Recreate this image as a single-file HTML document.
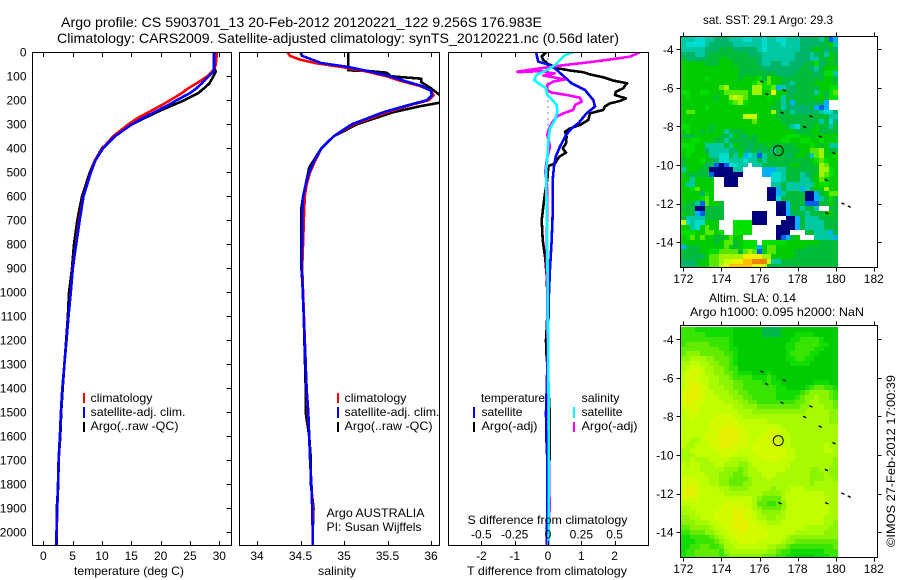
<!DOCTYPE html>
<html lang="en">
<head>
<meta charset="utf-8">
<title>Argo profile CS 5903701_13</title>
<style>
html,body{margin:0;padding:0;background:#fff;}
svg{display:block;}
text{font-family:"Liberation Sans",sans-serif;font-size:12px;fill:#000;}
</style>
</head>
<body>
<svg id="chart" xmlns="http://www.w3.org/2000/svg" width="900" height="580" viewBox="0 0 900 580">
  <defs>
    <clipPath id="clip-temp"><rect x="32" y="52" width="200" height="494"/></clipPath>
    <clipPath id="clip-sal"><rect x="239" y="52" width="201" height="494"/></clipPath>
    <clipPath id="clip-diff"><rect x="448" y="52" width="201" height="494"/></clipPath>
    <clipPath id="clip-sst"><rect x="680" y="36" width="198" height="231"/></clipPath>
    <clipPath id="clip-sla"><rect x="680" y="325" width="198" height="233"/></clipPath>
  </defs>
  <rect x="0" y="0" width="900" height="580" fill="#fff"/>

  <text x="61" y="27" style="font-size:14px" textLength="481" lengthAdjust="spacingAndGlyphs">Argo profile: CS 5903701_13 20-Feb-2012 20120221_122 9.256S 176.983E</text>
  <text x="57" y="43" style="font-size:14px" textLength="562" lengthAdjust="spacingAndGlyphs">Climatology: CARS2009. Satellite-adjusted climatology: synTS_20120221.nc (0.56d later)</text>

  <g id="heat-sst" clip-path="url(#clip-sst)" shape-rendering="crispEdges"></g>
  <g id="heat-sla" clip-path="url(#clip-sla)" shape-rendering="crispEdges"></g>

  <g id="temp-lines" clip-path="url(#clip-temp)"></g>
  <g id="sal-lines" clip-path="url(#clip-sal)"></g>
  <g id="diff-lines" clip-path="url(#clip-diff)"></g>
  <g id="axes" shape-rendering="crispEdges"></g>
  <g id="labels"></g>
  <g id="map-marks"></g>

  <text x="74" y="575" textLength="110" lengthAdjust="spacingAndGlyphs">temperature (deg C)</text>
  <text x="318" y="575" textLength="38" lengthAdjust="spacingAndGlyphs">salinity</text>
  <text x="467" y="575" textLength="160" lengthAdjust="spacingAndGlyphs">T difference from climatology</text>
  <text x="467.5" y="524" textLength="160" lengthAdjust="spacingAndGlyphs">S difference from climatology</text>

  <g>
    <rect x="83" y="393" width="2" height="10" fill="#f00" shape-rendering="crispEdges"/>
    <text x="90.5" y="402" textLength="62" lengthAdjust="spacingAndGlyphs">climatology</text>
    <rect x="83" y="407" width="2" height="11" fill="#00f" shape-rendering="crispEdges"/>
    <text x="90.5" y="416" textLength="95" lengthAdjust="spacingAndGlyphs">satellite-adj. clim.</text>
    <rect x="83" y="422" width="2" height="10" fill="#000" shape-rendering="crispEdges"/>
    <text x="90.5" y="430" textLength="88" lengthAdjust="spacingAndGlyphs">Argo(..raw -QC)</text>
  </g>
  <g>
    <rect x="337" y="393" width="2" height="10" fill="#f00" shape-rendering="crispEdges"/>
    <text x="344.5" y="402" textLength="62" lengthAdjust="spacingAndGlyphs">climatology</text>
    <rect x="337" y="407" width="2" height="11" fill="#00f" shape-rendering="crispEdges"/>
    <text x="344.5" y="416" textLength="95" lengthAdjust="spacingAndGlyphs">satellite-adj. clim.</text>
    <rect x="337" y="422" width="2" height="10" fill="#000" shape-rendering="crispEdges"/>
    <text x="344.5" y="430" textLength="88" lengthAdjust="spacingAndGlyphs">Argo(..raw -QC)</text>
  </g>
  <g>
    <text x="481" y="402" textLength="64" lengthAdjust="spacingAndGlyphs">temperature</text>
    <text x="581.5" y="402" textLength="38" lengthAdjust="spacingAndGlyphs">salinity</text>
    <rect x="473" y="407" width="2" height="11" fill="#00f" shape-rendering="crispEdges"/>
    <text x="481.5" y="416" textLength="41" lengthAdjust="spacingAndGlyphs">satellite</text>
    <rect x="473" y="422" width="2" height="10" fill="#000" shape-rendering="crispEdges"/>
    <text x="481.5" y="430" textLength="56" lengthAdjust="spacingAndGlyphs">Argo(-adj)</text>
    <rect x="573" y="407" width="2" height="11" fill="#0ff" shape-rendering="crispEdges"/>
    <text x="581.5" y="416" textLength="41" lengthAdjust="spacingAndGlyphs">satellite</text>
    <rect x="573" y="422" width="2" height="10" fill="#f0f" shape-rendering="crispEdges"/>
    <text x="581.5" y="430" textLength="56" lengthAdjust="spacingAndGlyphs">Argo(-adj)</text>
  </g>

  <text x="326.5" y="517" textLength="98" lengthAdjust="spacingAndGlyphs">Argo AUSTRALIA</text>
  <text x="326.5" y="531" textLength="95" lengthAdjust="spacingAndGlyphs">PI: Susan Wijffels</text>

  <text x="703" y="24" textLength="130" lengthAdjust="spacingAndGlyphs">sat. SST: 29.1 Argo: 29.3</text>
  <text x="709" y="302" textLength="87" lengthAdjust="spacingAndGlyphs">Altim. SLA: 0.14</text>
  <text x="690" y="316" textLength="174" lengthAdjust="spacingAndGlyphs">Argo h1000: 0.095 h2000: NaN</text>
  <text transform="translate(895 547) rotate(-90)" x="0" y="0" textLength="172" lengthAdjust="spacingAndGlyphs">©IMOS 27-Feb-2012 17:00:39</text>
</svg>

<script>
// ---- Depth axis ----
const depthTicks = [0,100,200,300,400,500,600,700,800,900,1000,1100,1200,1300,1400,1500,1600,1700,1800,1900,2000];
// ---- Temperature panel ----
const tempTicks = [0,5,10,15,20,25,30];
const tempDepths = [0,30,60,80,100,130,150,170,200,220,250,275,300,350,400,450,500,600,700,800,900,1000,1100,1200,1300,1400,1500,1600,1700,1800,1900,2000,2055];
const tempClim = [29.55,29.5,29.3,28.8,27.96,26.1,24.7,23.6,21.6,20.2,17.9,16.0,14.5,11.9,10.1,8.8,8.08,6.82,6.14,5.57,5.0,4.67,4.3,3.95,3.6,3.24,3.02,2.85,2.62,2.5,2.39,2.28,2.16];
const tempSat = [29.1,29.1,29.1,29.0,28.2,27.0,26.1,25.0,22.7,21.3,18.9,16.9,15.1,12.2,10.2,8.9,8.12,6.85,6.2,5.6,5.03,4.68,4.3,3.95,3.6,3.24,3.0,2.83,2.6,2.5,2.37,2.25,2.2];
const tempArgo = [29.5,29.4,29.1,29.4,29.0,28.3,27.4,26.4,24.0,22.1,19.3,17.2,15.1,12.1,10.0,8.8,7.95,6.6,5.8,5.23,4.9,4.38,4.2,3.9,3.6,3.3,3.05,2.9,2.6,2.55,2.3,2.28,2.25];
// ---- Salinity panel ----
const salTicks = [34,34.5,35,35.5,36];
const salDepths = [0,15,30,45,60,80,100,120,140,160,180,200,220,250,300,350,400,450,500,550,600,680,900,1400,1500,1600,1700,1800,1900,2000,2055];
const salClim = [34.35,34.38,34.49,34.67,34.95,35.26,35.49,35.66,35.87,36.0,36.03,35.97,35.76,35.49,35.11,34.88,34.74,34.67,34.61,34.57,34.55,34.54,34.52,34.57,34.585,34.6,34.61,34.625,34.64,34.64,34.64];
const salSat = [34.5,34.52,34.63,34.74,35.03,35.3,35.53,35.7,35.89,36.0,36.01,35.95,35.74,35.45,35.09,34.88,34.74,34.66,34.6,34.56,34.53,34.52,34.515,34.57,34.59,34.6,34.61,34.625,34.635,34.64,34.64];
const salArgoDepths = [0,60,75,78,85,100,110,125,150,178,195,210,225,250,300,350,400,480,500,600,650,900,1000,1400,1500,1600,1700,1800,1900,2000,2055];
const salArgo = [35.05,35.05,35.05,35.28,35.49,35.54,35.89,35.89,36.0,36.1,36.2,36.1,35.87,35.56,35.15,34.88,34.74,34.6,34.59,34.53,34.51,34.51,34.53,34.56,34.56,34.6,34.62,34.62,34.65,34.64,34.64];
// ---- Difference panel ----
const diffTTicks = [-2,-1,0,1,2];
const diffSTicks = ["-0.5","-0.25","0","0.25","0.5"];
const diffSTickValues = [-0.5,-0.25,0,0.25,0.5];
const dTSatDepths = [0,39,49,67,101,129,157,199,226,254,296,317,345,393,435,476,532,671,782,900,1000,1200,1400,1500,1600,1700,1800,2000,2055];
const dTSat = [-0.36,-0.29,-0.04,0.21,0.48,0.71,1.11,1.36,1.41,1.16,0.91,0.71,0.54,0.36,0.23,0.18,0.14,0.14,0.11,0.06,0.03,0,-0.04,-0.06,-0.05,-0.02,-0.02,-0.03,-0.03];
const dTArgoDepths = [0,18,32,49,67,76,83,92,104,118,129,139,150,164,178,192,203,213,226,240,254,282,303,317,331,351,379,400,418,435,463,474,532,588,643,699,782,860,950,1100,1200,1250,1300,1500,1550,1800,1900,2055];
const dTArgo = [-0.06,-0.19,-0.14,0.01,0.31,0.66,1.06,1.26,1.66,1.96,2.38,2.31,2.26,2.04,2.01,2.34,2.16,1.86,1.71,1.66,1.26,1.21,0.96,0.66,0.51,0.56,0.54,0.44,0.54,0.34,0.21,0.01,-0.02,-0.09,-0.14,-0.19,-0.16,-0.08,-0.03,-0.02,-0.06,-0.05,-0.02,0.05,0.05,0.04,0.03,0];
const dSSatDepths = [0,11,32,53,74,94,115,129,150,178,196,219,247,282,317,365,435,504,782,1500,2055];
const dSSat = [0.19,0.128,0.09,0.053,-0.01,-0.085,-0.105,-0.073,-0.015,-0.005,0.028,0.065,0.07,0.053,0.015,0.003,-0.005,-0.015,-0.005,0.005,0.005];
const dSArgoDepths = [0,18,32,46,57,71,81,76,83,78,85,88,97,104,113,122,136,157,168,178,189,206,219,240,254,268,296,324,344,393,449,504,532,601,782,1400,1900,2055];
const dSArgo = [0.69,0.615,0.44,0.24,0.065,-0.11,-0.23,-0.1,-0.22,-0.05,0,0.05,-0.035,0.04,0.128,0.04,-0.005,-0.01,0.028,0.14,0.24,0.253,0.203,0.19,0.115,0.065,0.028,0.003,-0.005,0.015,-0.01,-0.022,-0.01,-0.005,-0.01,0,0.012,0];
// ---- Maps ----
const lonTicks = [172,174,176,178,180,182];
const latTicks = [-4,-6,-8,-10,-12,-14];
const markerLons = [176.13,176.38,177.3,177.18,178.7,178.37,179.19,179.91,179.51,180.38,180.71,177.08,179.53];
const markerLats = [-5.68,-6.32,-6.13,-7.29,-7.48,-8.03,-8.53,-9.39,-10.78,-12.0,-12.16,-12.5,-12.5];
const profileLon = 176.983;
const profileLat = -9.256;
// SST colour-class per 0.25-degree cell (0 = no data)
const sstRows = [
[5,5,5,4,4,5,5,6,6,6,5,5,5,4,4,5,5,4,5,5,4,4,5,5,5,6,6,6,6,5,7,2,3],
[5,4,4,4,4,5,6,6,6,6,6,5,5,5,5,5,5,4,5,5,5,4,5,5,5,6,6,6,6,7,7,8,5],
[5,5,5,5,5,6,6,6,7,7,7,6,6,6,6,6,5,4,5,5,5,5,5,5,5,6,6,7,8,7,6,7,6],
[6,6,6,5,5,6,7,7,7,7,7,7,7,7,6,6,6,5,5,5,5,5,5,5,6,6,6,5,6,7,5,8,7],
[7,6,6,6,6,7,7,7,8,8,7,7,7,7,7,7,6,5,5,5,5,5,5,5,6,6,6,5,5,7,7,8,7],
[8,8,8,8,8,7,7,7,8,8,8,7,7,7,7,7,6,5,5,6,6,5,5,6,6,6,7,7,9,6,7,8,7],
[8,8,8,8,8,8,8,8,8,8,8,8,7,7,7,7,7,6,6,6,6,6,6,6,6,7,7,6,5,7,8,8,8],
[8,8,8,8,8,8,8,8,8,8,8,8,7,7,7,7,7,7,7,7,6,6,6,6,7,7,7,7,6,7,9,9,5],
[8,8,8,8,8,9,8,8,8,8,8,8,7,8,8,8,9,7,10,8,8,7,7,7,7,7,7,7,7,7,8,8,7],
[8,8,8,8,8,8,8,8,8,8,8,8,8,8,8,9,10,9,10,8,8,7,6,5,7,7,7,7,8,8,8,8,7],
[8,8,8,8,8,8,8,8,10,11,8,8,8,8,8,11,11,9,9,10,3,5,6,6,7,7,7,7,7,8,8,9,9],
[9,9,8,8,9,9,8,8,8,10,10,10,10,10,8,11,11,8,8,13,8,8,7,6,7,7,7,7,5,8,7,9,10],
[8,9,8,8,8,8,8,7,8,8,11,12,11,10,8,8,8,8,9,8,8,5,7,7,7,7,7,7,8,8,7,9,9],
[8,8,8,8,8,8,8,8,8,8,9,10,11,9,8,8,8,8,8,8,7,5,7,3,7,7,7,7,7,7,3,0,0],
[8,8,8,8,8,9,8,8,8,8,8,8,8,8,8,8,8,8,8,7,7,5,6,6,6,6,6,7,3,2,3,0,0],
[8,10,10,8,8,8,8,8,8,8,8,8,8,8,8,8,8,8,8,11,7,7,7,5,6,6,6,6,6,5,4,4,6],
[8,8,8,8,8,8,8,8,8,8,8,8,8,12,12,12,8,8,8,8,7,7,7,7,7,7,7,7,7,7,7,5,5],
[8,8,8,8,8,8,8,8,8,8,8,8,8,8,8,10,8,8,8,8,8,7,7,7,7,7,7,7,7,5,7,4,6],
[9,9,8,8,8,8,7,8,8,8,8,8,8,8,8,8,8,8,8,8,8,8,7,5,4,7,7,7,8,7,7,5,7],
[8,9,8,8,7,8,7,8,8,5,7,7,7,8,8,8,8,8,8,8,8,8,8,8,7,7,7,8,8,7,7,7,7],
[7,7,7,8,8,8,8,8,7,7,5,8,7,6,8,7,8,8,8,8,8,8,9,9,9,8,8,7,8,8,8,8,8],
[8,8,9,9,8,8,8,7,7,5,7,7,7,7,7,7,8,8,8,8,8,9,9,8,8,9,9,8,8,9,8,8,8],
[9,9,9,8,8,5,5,5,5,7,5,8,7,7,6,7,7,7,8,7,7,7,7,7,8,8,8,9,8,7,8,5,5],
[8,9,9,8,8,6,5,5,5,5,6,6,8,6,6,7,6,7,7,5,7,7,7,7,7,8,8,10,10,11,8,7,7],
[8,9,8,8,8,8,5,5,4,4,7,5,8,3,4,5,2,5,7,7,7,7,6,7,8,8,7,5,10,11,8,8,9],
[7,8,8,8,9,8,7,6,4,4,5,5,5,4,5,5,7,5,7,7,7,7,7,7,7,7,7,8,9,10,9,8,8],
[7,8,8,8,8,6,6,2,1,2,4,4,5,5,0,5,5,7,7,7,7,7,7,8,8,7,7,7,8,11,10,8,8],
[5,8,8,8,7,7,1,1,1,1,1,5,5,0,0,0,0,3,3,3,5,5,7,7,7,7,7,7,7,11,11,9,8],
[8,7,7,7,7,7,2,1,1,1,1,1,1,0,0,0,0,3,3,4,4,5,7,7,7,5,6,7,8,11,10,9,8],
[8,8,5,8,8,8,8,0,0,1,1,1,0,0,0,0,0,0,0,4,4,5,7,7,7,5,5,7,8,10,9,8,8],
[8,5,5,8,8,8,8,0,0,1,1,1,0,0,0,0,0,0,0,5,5,7,5,5,5,5,5,5,8,9,9,8,8],
[8,8,9,10,8,8,8,0,0,0,0,0,0,0,0,0,0,0,1,1,3,7,5,5,5,3,5,7,8,8,11,8,8],
[8,8,8,8,6,9,8,0,0,0,0,0,0,0,0,0,0,0,1,1,3,5,7,7,7,7,1,1,3,7,8,10,10],
[8,8,8,8,9,10,8,0,0,0,0,0,0,0,0,0,0,0,1,1,4,7,7,7,7,7,1,1,3,5,7,9,7],
[8,7,7,5,2,10,8,8,7,0,0,0,0,0,0,0,0,0,0,0,1,1,3,7,7,7,2,2,2,7,7,8,7],
[7,7,7,1,1,7,7,7,7,0,0,0,0,0,0,0,0,0,0,0,1,1,3,7,7,5,7,7,5,0,0,7,7],
[8,7,7,3,2,7,7,7,7,0,0,0,0,0,0,1,1,1,0,0,1,1,3,6,7,7,5,7,7,7,8,8,7],
[7,5,5,5,5,7,7,7,7,0,0,0,0,0,0,1,1,1,0,0,0,0,1,1,3,7,5,5,5,7,7,7,7],
[12,4,5,4,4,8,8,8,0,0,0,9,9,9,9,1,1,1,0,0,0,1,1,1,3,7,5,5,5,5,7,7,7],
[8,8,5,4,8,10,8,8,0,0,0,9,9,9,9,0,0,0,0,0,1,1,1,1,3,7,5,5,5,5,7,7,7],
[9,9,9,8,8,10,10,8,9,0,0,9,9,9,9,0,0,0,0,0,1,1,1,0,0,0,7,7,5,5,5,3,7],
[8,9,10,8,10,8,8,7,7,8,10,8,8,0,0,0,0,0,0,0,1,2,3,7,8,0,0,0,5,5,5,5,3],
[8,8,8,8,8,8,8,7,8,10,10,7,8,9,9,9,0,9,9,9,9,9,8,8,8,8,8,8,8,7,7,7,7],
[3,7,7,7,8,8,8,8,8,10,8,7,8,9,9,9,3,8,10,10,8,8,8,8,8,8,7,7,7,7,7,7,7],
[7,7,7,7,8,8,9,9,10,10,10,10,7,10,11,10,2,8,10,10,8,8,8,8,7,7,7,7,7,7,7,7,7],
[7,7,7,7,6,8,10,10,11,11,11,11,11,13,13,13,13,11,11,8,8,8,8,8,7,7,7,7,7,7,7,7,7],
[6,6,6,7,8,8,10,10,11,12,12,13,13,14,14,15,15,15,12,5,5,7,7,7,7,7,7,7,7,7,7,7,7],
[6,6,6,7,8,8,10,10,12,13,14,14,14,14,14,13,13,12,7,7,7,7,7,7,7,7,7,7,7,7,7,7,7]
];
// Sea-level-anomaly colour-class per 0.25-degree cell
const slaRows = [
[3,3,3,2,2,2,2,2,2,2,2,1,1,1,1,1,1,0,0,0,0,1,1,1,1,1,1,1,1,1,1,1,1],
[3,3,3,3,3,2,2,2,2,2,2,1,1,1,1,1,1,0,0,0,0,1,1,1,2,2,2,2,1,1,1,1,1],
[3,3,3,3,3,3,3,3,3,3,2,1,1,1,1,1,1,1,1,1,1,1,1,2,2,3,3,3,3,2,1,1,1],
[3,4,4,4,4,4,3,3,3,3,2,1,1,1,1,1,1,1,1,1,1,1,2,2,3,3,3,3,3,2,2,1,1],
[4,4,4,4,4,4,4,4,3,3,2,2,1,1,1,1,1,1,1,1,1,1,2,2,3,3,3,3,2,2,1,1,1],
[4,5,5,5,4,4,4,4,4,3,3,2,1,1,1,1,1,1,1,1,1,1,2,3,3,3,3,2,2,1,1,1,1],
[5,5,6,6,6,5,5,4,4,4,3,2,1,1,1,1,1,1,1,1,1,1,2,2,3,3,2,2,1,1,1,1,1],
[6,6,7,7,6,6,5,5,4,4,3,2,1,1,1,1,1,1,1,1,1,1,1,2,2,2,2,1,1,1,1,1,1],
[6,7,8,8,7,6,6,5,5,4,3,3,1,1,1,1,1,1,1,1,1,1,1,1,1,1,1,1,1,1,1,1,1],
[7,8,8,8,7,6,6,5,5,4,4,3,2,2,2,1,1,1,2,1,1,1,1,1,1,1,1,1,1,1,1,1,1],
[7,8,8,8,7,7,6,6,5,5,4,3,3,3,3,2,2,2,3,2,1,1,1,1,1,1,1,1,1,1,1,1,1],
[7,8,9,8,7,7,6,6,5,5,5,4,4,3,3,3,3,2,3,2,2,1,1,1,1,1,1,1,2,2,2,1,1],
[7,8,9,9,8,7,6,6,6,5,5,4,4,3,3,3,3,3,3,3,2,2,1,1,1,1,2,3,4,4,3,3,2],
[8,9,9,9,8,7,7,6,6,6,5,5,4,4,3,3,3,3,3,3,2,2,2,2,2,3,4,5,5,5,5,4,3],
[8,9,9,9,8,7,7,7,6,6,6,5,5,4,4,3,3,3,3,3,2,2,2,2,3,4,5,5,6,5,5,4,3],
[8,9,9,8,8,7,7,7,7,6,6,6,5,5,4,4,3,3,3,3,3,3,3,3,4,4,5,6,6,5,5,5,4],
[8,8,8,8,7,7,7,7,7,7,7,6,6,5,5,5,4,4,4,4,4,4,4,4,4,5,5,6,6,6,5,5,4],
[7,8,8,8,7,7,7,7,7,7,7,7,6,6,6,5,5,5,5,5,5,5,5,5,5,5,6,6,6,6,6,5,5],
[7,7,8,7,7,7,7,8,8,8,8,7,7,6,6,6,6,6,6,6,6,6,6,6,6,6,6,6,6,6,6,5,5],
[7,7,7,7,7,7,8,8,8,8,8,8,7,7,7,7,7,7,6,6,6,6,6,6,6,6,6,6,6,6,6,5,5],
[7,7,7,7,7,7,8,8,8,9,9,8,8,7,7,7,7,7,7,7,7,6,6,6,6,6,6,6,6,6,6,6,6],
[7,7,7,7,7,7,8,8,9,9,9,9,8,8,7,7,7,7,8,8,7,7,6,6,6,6,6,6,6,6,6,6,6],
[7,7,7,7,7,8,8,8,9,9,9,9,8,8,7,7,7,8,8,8,8,7,7,6,6,6,6,6,6,6,6,6,6],
[7,7,6,6,7,8,8,8,9,9,9,9,8,8,7,7,8,8,8,8,8,7,7,6,6,6,6,6,6,6,6,6,6],
[7,6,6,7,7,7,8,8,9,9,9,8,8,8,7,8,8,8,8,8,8,7,7,6,6,6,6,6,6,6,7,6,6],
[6,6,7,7,7,7,7,8,8,8,8,8,7,7,7,8,8,8,8,8,8,8,7,7,6,6,6,6,6,6,7,7,6],
[6,6,6,7,7,7,7,7,8,8,8,7,7,7,7,7,8,8,8,8,8,8,7,7,6,6,6,6,6,6,6,6,6],
[6,6,7,6,6,6,7,7,7,7,6,6,6,6,7,7,7,8,8,8,8,7,7,7,6,6,6,6,6,6,6,6,5],
[7,6,7,7,6,6,6,7,7,6,6,6,5,5,6,7,7,7,7,7,7,7,7,6,6,6,6,6,6,6,6,6,5],
[7,7,7,7,6,6,6,6,6,5,5,5,4,5,6,6,7,7,7,7,7,7,6,6,6,6,6,5,5,6,6,5,5],
[7,7,7,7,7,6,6,6,5,5,5,4,4,5,6,6,6,7,7,7,6,6,6,6,6,6,6,5,5,5,6,5,5],
[8,8,8,7,7,7,6,6,5,5,4,4,4,4,5,6,6,6,7,6,6,6,6,6,6,6,6,5,5,5,6,6,5],
[8,8,8,8,7,7,6,6,5,5,4,4,4,5,5,6,6,6,6,6,6,6,6,6,6,6,6,5,6,6,6,6,6],
[8,9,9,8,7,7,7,7,6,6,5,5,5,5,6,6,6,6,6,5,6,6,6,7,7,7,6,6,6,6,6,6,6],
[8,9,9,8,7,7,7,7,7,6,6,6,6,6,6,6,6,5,5,5,5,6,7,7,7,7,7,7,7,7,6,6,6],
[8,8,8,8,7,7,7,7,7,7,7,7,7,7,7,6,5,4,4,4,4,6,7,7,7,7,7,7,7,7,7,6,6],
[7,7,7,7,7,7,7,7,7,8,8,8,8,7,7,6,4,4,3,3,4,5,7,7,7,7,7,7,7,7,7,6,6],
[6,6,7,7,7,7,7,7,8,8,8,8,8,8,7,6,5,4,4,4,4,5,7,7,7,7,7,7,7,7,7,6,6],
[6,6,6,7,7,7,7,8,8,8,8,9,9,8,8,7,6,5,5,5,5,6,7,7,7,7,7,7,7,7,7,6,6],
[5,5,6,6,7,7,7,8,8,8,8,9,9,8,8,7,6,6,5,5,6,6,7,7,7,7,7,7,7,7,6,6,6],
[5,5,5,6,6,6,7,7,8,8,8,9,9,9,8,8,7,7,6,6,6,7,7,7,7,7,7,7,7,7,6,6,5],
[4,4,5,5,5,5,6,7,7,8,8,9,9,9,8,8,8,7,7,7,7,7,7,7,7,7,6,6,6,6,6,5,5],
[3,3,4,4,4,5,5,6,7,7,8,8,9,8,8,8,8,8,7,7,7,7,7,7,6,6,6,6,6,6,5,5,5],
[2,2,3,3,3,3,4,5,6,7,7,8,8,8,8,8,8,8,7,7,7,7,6,5,5,5,5,5,5,5,5,5,5],
[2,2,2,3,3,3,3,4,5,6,7,7,8,8,8,8,7,7,7,7,7,6,5,5,4,4,4,4,4,4,4,4,4],
[2,2,3,3,4,4,3,3,4,6,6,7,7,7,7,7,7,7,6,6,5,5,4,3,3,3,3,3,3,3,3,3,4],
[2,3,3,4,4,4,4,4,3,5,6,6,6,6,6,6,6,6,5,5,4,3,3,2,2,2,2,2,2,2,3,3,3],
[2,3,3,4,4,4,4,4,3,4,5,5,5,5,5,5,5,4,4,4,3,3,2,2,1,1,1,1,2,2,2,3,3]
];

// ---- Axis functions ----
const yDepth = d => 52.3 + 0.24 * d;
const xTemp = t => 43.3 + 5.867 * t;
const xSal = s => 257 + 87 * (s - 34);
const xDT = v => 548 + 33.3 * v;
const xDS = v => 548 + 133.3 * v;
const xLon = lon => 683.3 + 19.05 * (lon - 172);
const yLatSst = lat => 49.3 + 19.28 * (-4 - lat);
const yLatSla = lat => 339.3 + 19.28 * (-4 - lat);
const firstLon = 171.875;
const firstLat = -3.375;
const cellDeg = 0.25;

const NS = 'http://www.w3.org/2000/svg';
const byId = id => document.getElementById(id);
function make(parent, tag, attrs) {
  const el = document.createElementNS(NS, tag);
  for (const k in attrs) el.setAttribute(k, attrs[k]);
  parent.appendChild(el);
  return el;
}
function linePoints(xs, depths, xFn) {
  return xs.map((v, i) => xFn(v).toFixed(1) + ',' + yDepth(depths[i]).toFixed(1)).join(' ');
}
function series(parent, xs, depths, xFn, color) {
  return make(parent, 'polyline', {points: linePoints(xs, depths, xFn), fill: 'none', stroke: color, 'stroke-width': 2.6, 'stroke-linejoin': 'round', 'shape-rendering': 'crispEdges'});
}

// ---- Series ----
const tempG = byId('temp-lines');
let s;
s = series(tempG, tempArgo, tempDepths, xTemp, '#000');


s = series(tempG, tempClim, tempDepths, xTemp, '#f00');


s = series(tempG, tempSat, tempDepths, xTemp, '#00f');



const salG = byId('sal-lines');
s = series(salG, salArgo, salArgoDepths, xSal, '#000');


s = series(salG, salClim, salDepths, xSal, '#f00');


s = series(salG, salSat, salDepths, xSal, '#00f');



const diffG = byId('diff-lines');
const zero = make(diffG, 'line', {x1: xDT(0), x2: xDT(0), y1: yDepth(0), y2: yDepth(2055), stroke: '#000', 'stroke-width': 1, 'stroke-dasharray': '1 5', 'shape-rendering': 'crispEdges'});


s = series(diffG, dTArgo, dTArgoDepths, xDT, '#000');


s = series(diffG, dTSat, dTSatDepths, xDT, '#00f');


s = series(diffG, dSArgo, dSArgoDepths, xDS, '#f0f');


s = series(diffG, dSSat, dSSatDepths, xDS, '#0ff');



// ---- Axes ----
const axesG = byId('axes');
const labelsG = byId('labels');
function frame(x, y, w, h) {
  return make(axesG, 'rect', {x: x, y: y, width: w, height: h, fill: 'none', stroke: '#000', 'stroke-width': 1});
}
function tick(x1, y1, x2, y2) {
  return make(axesG, 'line', {x1: x1, y1: y1, x2: x2, y2: y2, stroke: '#000', 'stroke-width': 1});
}
function label(txt, x, y, anchor) {
  const t = make(labelsG, 'text', {x: x, y: y, 'text-anchor': anchor});
  t.textContent = txt;
  return t;
}
let f;
f = frame(32.5, 52.5, 199, 493);


f = frame(239.5, 52.5, 200, 493);


f = frame(448.5, 52.5, 200, 493);


f = frame(680.5, 36.5, 197, 231);


f = frame(680.5, 325.5, 197, 232);



depthTicks.forEach(d => {
  const y = Math.round(yDepth(d)) + 0.5;
  const t = tick(226.5, y, 231.5, y);
  
  
  const l = label(String(d), 26.5, yDepth(d) + 4, 'end');
  
  
});
function xAxis(ticks, xFn, texts, tickName, labelName) {
  ticks.forEach((v, i) => {
    const x = Math.round(xFn(v)) + 0.5;
    const a = tick(x, 52.5, x, 57);
    
    
    const b = tick(x, 541, x, 545.5);
    
    
    const l = label(texts[i], xFn(v), 560, 'middle');
    
    
  });
}
xAxis(tempTicks, xTemp, tempTicks.map(String), 'temperature-tick', 'temperature-tick-label');
xAxis(salTicks, xSal, salTicks.map(String), 'salinity-tick', 'salinity-tick-label');
xAxis(diffTTicks, xDT, diffTTicks.map(String), 't-difference-tick', 't-difference-tick-label');
diffSTickValues.forEach((v, i) => {
  const l = label(diffSTicks[i], xDS(v), 538.5, 'middle');
  
  
});

// ---- Map axes ----
function mapAxes(top, bottom, yLat, labelY, prefix) {
  lonTicks.forEach(lon => {
    const x = Math.round(xLon(lon)) + 0.5;
    const a = tick(x, top - 4, x, top);
    
    
    const b = tick(x, bottom, x, bottom + 4);
    
    
    const l = label(String(lon), xLon(lon), labelY, 'middle');
    
    
  });
  latTicks.forEach(lat => {
    const y = Math.round(yLat(lat)) + 0.5;
    const a = tick(676.5, y, 680.5, y);
    
    
    const b = tick(877.5, y, 881.5, y);
    
    
    const l = label(String(lat), 673.5, yLat(lat) + 4.5, 'end');
    
    
  });
}
mapAxes(36.5, 267.5, yLatSst, 283, 'sst-map');
mapAxes(325.5, 557.5, yLatSla, 573, 'sla-map');

// ---- Heatmaps ----
const sstColors = ['#ffffff','#00007f','#0060e8','#00b0ff','#00dcd0','#00c8a0','#00b468','#00bc38','#00cc00','#00e000','#58e800','#a0f400','#c8ff00','#f0f000','#ffc000','#f08000'];
const slaColors = ['#00b84c','#00cc00','#10dc00','#38e400','#64ec00','#8cf400','#a8fa00','#c0ff00','#d4fa00','#e4f000'];
function drawHeat(groupId, rows, colors, yLat, skipZero) {
  const g = byId(groupId);
  rows.forEach((row, r) => {
    row.forEach((v, c) => {
      if (skipZero && v === 0) return;
      const x0 = Math.round(xLon(firstLon + c * cellDeg));
      const x1 = Math.round(xLon(firstLon + (c + 1) * cellDeg));
      const y0 = Math.round(yLat(firstLat - r * cellDeg));
      const y1 = Math.round(yLat(firstLat - (r + 1) * cellDeg));
      const cell = make(g, 'rect', {x: x0, y: y0, width: x1 - x0, height: y1 - y0, fill: colors[v]});
      
      
    });
  });
}
drawHeat('heat-sst', sstRows, sstColors, yLatSst, true);
drawHeat('heat-sla', slaRows, slaColors, yLatSla, false);

// ---- Markers ----
const marksG = byId('map-marks');
function drawMarks(yLat, prefix) {
  markerLons.forEach((lon, i) => {
    const m = make(marksG, 'line', {x1: xLon(lon) - 1.5, y1: yLat(markerLats[i]) - 0.7, x2: xLon(lon) + 1.5, y2: yLat(markerLats[i]) + 0.7, stroke: '#000', 'stroke-width': 1.4});
    
    
  });
  const c = make(marksG, 'circle', {cx: xLon(profileLon), cy: yLat(profileLat), r: 5, fill: 'none', stroke: '#000', 'stroke-width': 1});
  
  
}
drawMarks(yLatSst, 'sst-map');
drawMarks(yLatSla, 'sla-map');
</script>
</body>
</html>
